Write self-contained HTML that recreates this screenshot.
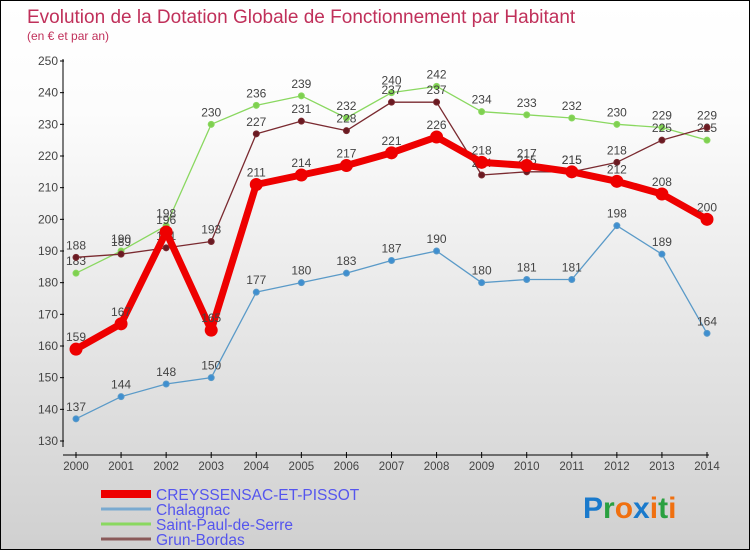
<!DOCTYPE html>
<html><head><meta charset="utf-8"><style>
body{margin:0}
#c{width:748px;height:548px;border:1px solid #000;background:linear-gradient(#fff,#fcfcfc 20%,#e6e6e6 60%,#d0d0d0);position:relative;font-family:"Liberation Sans",sans-serif}
svg{position:absolute;left:0;top:0}
</style></head><body>
<div id="c">
<svg id="s" width="748" height="548">
<text x="26" y="22" font-size="19" fill="#c0305a">Evolution de la Dotation Globale de Fonctionnement par Habitant</text>
<text x="26" y="39" font-size="12" fill="#c0305a">(en € et par an)</text>
</svg>
</div>
<script>
const years=[2000,2001,2002,2003,2004,2005,2006,2007,2008,2009,2010,2011,2012,2013,2014];
const yTicks=[130,140,150,160,170,180,190,200,210,220,230,240,250];
const creyssensac=[159,167,196,165,211,214,217,221,226,218,217,215,212,208,200];
const chalagnac=[137,144,148,150,177,180,183,187,190,180,181,181,198,189,164];
const saintPaul=[183,190,198,230,236,239,232,240,242,234,233,232,230,229,225];
const grunBordas=[188,189,191,193,227,231,228,237,237,214,215,215,218,225,229];
const s=document.getElementById('s');const NS='http://www.w3.org/2000/svg';
function X(i){return 75+i*(706-75)/(years.length-1);}
function Y(v){return 440-(v-130)*(380/120);}
function el(t,a,p){const e=document.createElementNS(NS,t);for(const k in a)e.setAttribute(k,a[k]);(p||s).appendChild(e);return e;}
let ax=el('line',{x1:62,y1:58,x2:62,y2:446,stroke:'#000'});


let xa=el('line',{x1:62,y1:454,x2:708,y2:454,stroke:'#000'});


yTicks.forEach(v=>{const t=el('text',{x:57,y:Y(v)+4,'font-size':12,fill:'#444','text-anchor':'end'});t.textContent=v;


el('line',{x1:59,y1:Y(v),x2:63,y2:Y(v),stroke:'#000'});});
years.forEach((y,i)=>{el('line',{x1:X(i),y1:451,x2:X(i),y2:457,stroke:'#000'});const t=el('text',{x:X(i),y:469,'font-size':11.5,fill:'#444','text-anchor':'middle'});t.textContent=y;

});
function series(d,col,w,r,fill,name){const g=el('g',{});


el('polyline',{points:d.map((v,i)=>X(i)+','+Y(v)).join(' '),fill:'none',stroke:col,'stroke-width':w,'stroke-linejoin':'round'},g);
d.forEach((v,i)=>{const c=el('circle',{cx:X(i),cy:Y(v),r:r,fill:fill,stroke:col},g);


const t=el('text',{x:X(i),y:Y(v)-8,'font-size':12,fill:'#444','text-anchor':'middle'},g);t.textContent=v;});}
series(chalagnac,'#5a9ac8',1.3,3,'#3f8fd0','series-chalagnac');
series(saintPaul,'#8ad860',1.3,3,'#7fd050','series-saint-paul');
series(grunBordas,'#7a2a30',1.3,3,'#6a1a22','series-grun-bordas');
series(creyssensac,'#ee0000',7,6,'#ee0000','series-creyssensac');
const leg=[['CREYSSENSAC-ET-PISSOT','#ee0000',8],['Chalagnac','#7aaad0',3],['Saint-Paul-de-Serre','#8ad860',3],['Grun-Bordas','#8a5a5a',3]];
leg.forEach((l,i)=>{const y=493+i*15;el('line',{x1:100,y1:y,x2:150,y2:y,stroke:l[1],'stroke-width':l[2]});const t=el('text',{x:155,y:y+6,'font-size':15.5,fill:'#5555ee'});t.textContent=l[0];

});
const lg=el('text',{x:582,y:517,'font-size':30,'font-weight':'bold'});


[['P','#1a7acc'],['r','#2aa040'],['o','#f07010'],['x','#1a7acc'],['i','#f07010'],['t','#2aa040'],['i','#f07010']].forEach(c=>{const sp=el('tspan',{fill:c[1]},lg);sp.textContent=c[0];});
</script>
</body></html>
